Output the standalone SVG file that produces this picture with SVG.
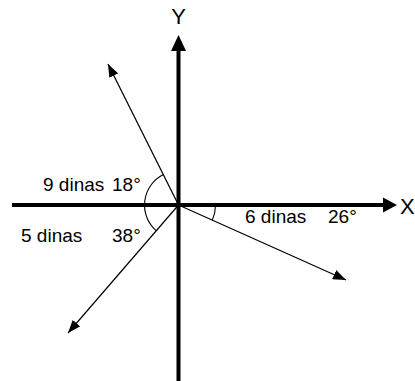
<svg xmlns="http://www.w3.org/2000/svg" width="415" height="381" viewBox="0 0 415 381">
<style>
.axis{stroke:#000;stroke-width:4;fill:none}
.vec{stroke:#000;stroke-width:1.2;fill:none}
.arc{stroke:#000;stroke-width:1.1;fill:none}
.head{fill:#000}
text{font-family:"Liberation Sans",Arial,sans-serif;fill:#000}
.lbl{font-size:19px}
.ax{font-size:22px}
</style>
<defs>
<marker id="arr" markerUnits="userSpaceOnUse" markerWidth="13" markerHeight="10" refX="13" refY="5" orient="auto">
<path d="M0,0 L13,5 L0,10 Z" fill="#000"/>
</marker>
</defs>
<g id="axes">
<g id="x-axis">
<line class="axis" x1="12" y1="205" x2="385" y2="205"/>
<polygon class="head" points="383,197.5 397,205 383,212.5"/>
<text class="ax" x="400" y="214">X</text>
</g>
<g id="y-axis">
<line class="axis" x1="178.5" y1="381" x2="178.5" y2="49"/>
<polygon class="head" points="171,51 178.5,35 186,51"/>
<text class="ax" x="178.5" y="24" text-anchor="middle">Y</text>
</g>
</g>
<g id="connectors">
<line class="vec" x1="178.5" y1="205" x2="108" y2="64" marker-end="url(#arr)"/>
<line class="vec" x1="178.5" y1="205" x2="346" y2="280" marker-end="url(#arr)"/>
<line class="vec" x1="178.5" y1="205" x2="68" y2="333" marker-end="url(#arr)"/>
</g>
<g id="angle-left">
<path class="arc" d="M163.4,174.6 A34,34 0 0 0 156.3,230.8"/>
</g>
<g id="angle-right">
<path class="arc" d="M215.5,205 A37,37 0 0 1 212.3,220.1"/>
</g>
<g id="label-9">
<text class="lbl" x="43" y="191">9 dinas</text>
<text class="lbl" x="112" y="191">18°</text>
</g>
<g id="label-5">
<text class="lbl" x="21" y="242">5 dinas</text>
<text class="lbl" x="112" y="242">38°</text>
</g>
<g id="label-6">
<text class="lbl" x="245" y="222.5">6 dinas</text>
<text class="lbl" x="328" y="222.5">26°</text>
</g>
</svg>
